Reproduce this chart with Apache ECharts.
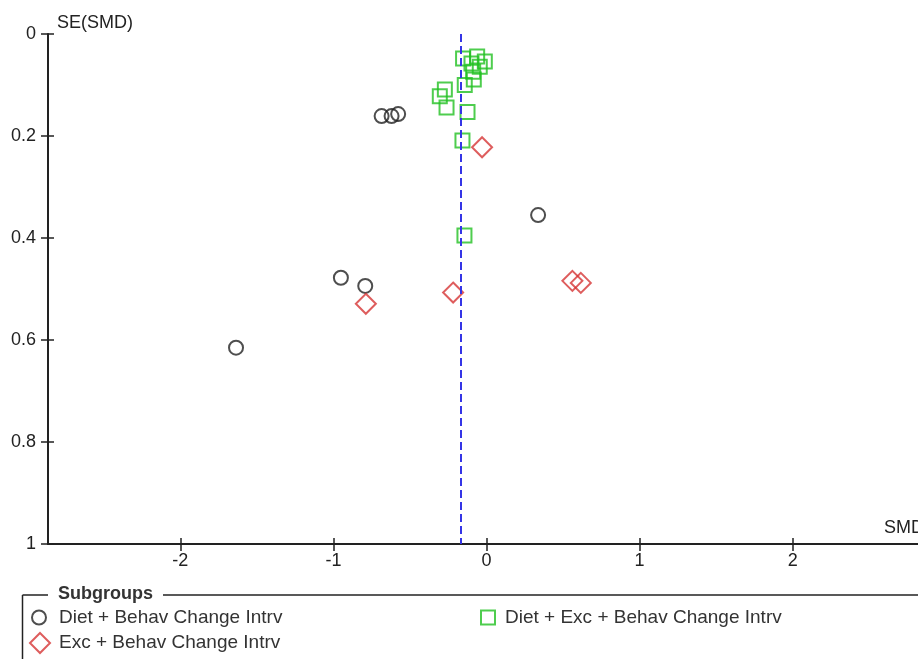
<!DOCTYPE html>
<html>
<head>
<meta charset="utf-8">
<script src="https://cdn.jsdelivr.net/npm/echarts@6/dist/echarts.min.js"></script>
<style>
  html, body { margin: 0; padding: 0; background: #fff; }
  #chart { width: 918px; height: 659px; }
</style>
</head>
<body>
<div id="chart"></div>
<script>
// subgroup points: SMD (x) and SE(SMD) (y)
const dietBehavSMD = [-0.685, -0.620, -0.577, 0.337, -0.951, -0.792, -1.636]
const dietBehavSE = [0.161, 0.161, 0.157, 0.355, 0.478, 0.494, 0.615]

const dietExcBehavSMD = [-0.153, -0.061, -0.011, -0.098, -0.044, -0.087, -0.083, -0.142, -0.272, -0.305, -0.261, -0.124, -0.157, -0.144]
const dietExcBehavSE = [0.048, 0.044, 0.054, 0.058, 0.064, 0.074, 0.089, 0.100, 0.109, 0.122, 0.144, 0.153, 0.209, 0.395]

const excBehavSMD = [-0.029, -0.788, -0.218, 0.561, 0.616]
const excBehavSE = [0.222, 0.529, 0.507, 0.484, 0.488]

const pooledSMD = -0.174
const xTicks = [-2, -1, 0, 1, 2]
const xRange = [-2.864, 2.864]

const pairs = (xs, ys) => xs.map((x, i) => [x, ys[i]])

const font = "'Liberation Sans', Arial, sans-serif"
const ink = '#222'

const chart = echarts.init(document.getElementById('chart'))

const baseX = {
  type: 'value',
  min: xRange[0],
  max: xRange[1],
  splitLine: { show: false }
}
const baseY = {
  type: 'value',
  min: 0,
  max: 1,
  interval: 0.2,
  inverse: true,
  splitLine: { show: false }
}

const legendText = pad => ({ color: '#333', fontFamily: font, fontSize: 19, padding: [0, 0, 0, pad] })

const option = {
  animation: false,
  grid: { left: 48, right: -7, top: 34, bottom: 115, outerBoundsMode: 'none' },
  xAxis: [
    Object.assign({}, baseX, {
      position: 'bottom',
      name: 'SMD',
      nameLocation: 'end',
      nameGap: -1,
      nameTextStyle: { color: ink, fontFamily: font, fontSize: 18, align: 'right', verticalAlign: 'bottom', padding: [0, 0, 7, 0] },
      axisLine: { onZero: false, lineStyle: { color: ink, width: 2 } },
      axisTick: { length: 7, lineStyle: { color: ink, width: 1.5 }, customValues: xTicks },
      axisLabel: { color: ink, fontFamily: font, fontSize: 18, margin: 8, customValues: xTicks, formatter: v => String(v) }
    }),
    Object.assign({}, baseX, {
      position: 'bottom',
      axisLine: { show: false, onZero: false },
      axisTick: { inside: true, length: 6, lineStyle: { color: ink, width: 1.5 }, customValues: xTicks },
      axisLabel: { show: false }
    })
  ],
  yAxis: [
    Object.assign({}, baseY, {
      position: 'left',
      name: 'SE(SMD)',
      nameLocation: 'start',
      nameGap: 2,
      nameTextStyle: { color: ink, fontFamily: font, fontSize: 18, align: 'left', verticalAlign: 'bottom', padding: [0, 0, 0, 9] },
      axisLine: { onZero: false, lineStyle: { color: ink, width: 2 } },
      axisTick: { length: 7, lineStyle: { color: ink, width: 1.5 } },
      axisLabel: { color: ink, fontFamily: font, fontSize: 18, margin: 12 }
    }),
    Object.assign({}, baseY, {
      position: 'left',
      axisLine: { show: false, onZero: false },
      axisTick: { inside: true, length: 6, lineStyle: { color: ink, width: 1.5 } },
      axisLabel: { show: false }
    })
  ],
  legend: [
    {
      data: ['Diet + Behav Change Intrv'],
      left: 31, top: 608, padding: 0,
      itemWidth: 14, itemHeight: 14,
      textStyle: legendText(8)
    },
    {
      data: ['Exc + Behav Change Intrv'],
      left: 29, top: 632, padding: 0,
      itemWidth: 20, itemHeight: 20,
      textStyle: legendText(4)
    },
    {
      data: ['Diet + Exc + Behav Change Intrv'],
      left: 480, top: 608, padding: 0,
      itemWidth: 14, itemHeight: 14,
      textStyle: legendText(5)
    }
  ],
  graphic: [
    { type: 'line', shape: { x1: 22.5, y1: 595, x2: 48, y2: 595 }, style: { stroke: ink, lineWidth: 1.5 } },
    { type: 'line', shape: { x1: 163, y1: 595, x2: 918, y2: 595 }, style: { stroke: ink, lineWidth: 1.5 } },
    { type: 'line', shape: { x1: 22.5, y1: 595, x2: 22.5, y2: 659 }, style: { stroke: ink, lineWidth: 1.5 } },
    {
      type: 'text', left: 58, top: 585,
      style: { text: 'Subgroups', fill: '#333', font: 'bold 18px ' + font }
    }
  ],
  series: [
    {
      name: 'Diet + Exc + Behav Change Intrv',
      type: 'scatter',
      symbol: 'rect',
      symbolSize: 14,
      data: pairs(dietExcBehavSMD, dietExcBehavSE),
      itemStyle: { color: 'transparent', borderColor: '#22c022', borderWidth: 2 },
      markLine: {
        silent: true,
        symbol: 'none',
        label: { show: false },
        lineStyle: { color: '#3535e6', type: [8, 4], width: 2 },
        data: [{ xAxis: pooledSMD }]
      }
    },
    {
      name: 'Diet + Behav Change Intrv',
      type: 'scatter',
      symbol: 'circle',
      symbolSize: 14,
      data: pairs(dietBehavSMD, dietBehavSE),
      itemStyle: { color: 'transparent', borderColor: '#222', borderWidth: 2 }
    },
    {
      name: 'Exc + Behav Change Intrv',
      type: 'scatter',
      symbol: 'diamond',
      symbolSize: 20,
      data: pairs(excBehavSMD, excBehavSE),
      itemStyle: { color: 'transparent', borderColor: '#d63434', borderWidth: 2 }
    }
  ]
}

chart.setOption(option)
</script>
</body>
</html>
